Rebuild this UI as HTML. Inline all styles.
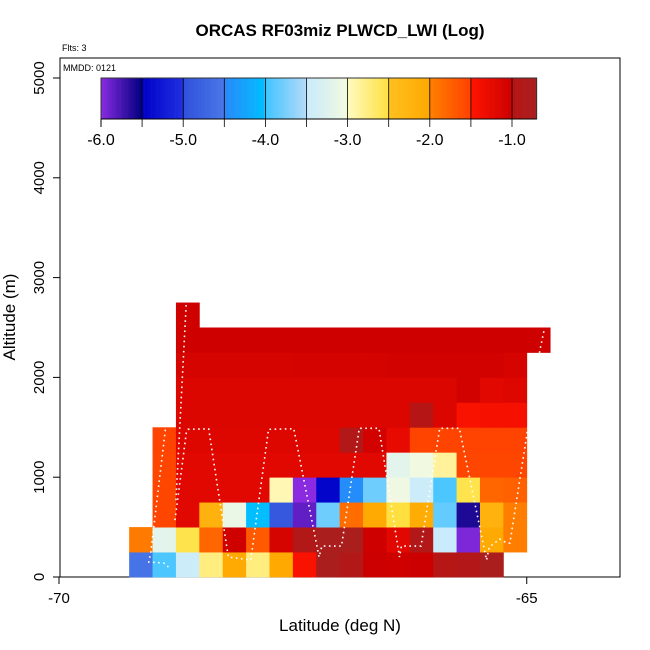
<!DOCTYPE html>
<html><head><meta charset="utf-8"><style>
body{margin:0;background:#fff;}
svg{display:block;font-family:"Liberation Sans",sans-serif;}
</style></head><body>
<svg id="chart" width="650" height="650" viewBox="0 0 650 650">
<text x="340" y="36" text-anchor="middle" font-size="17" font-weight="bold">ORCAS RF03miz PLWCD_LWI (Log)</text>
<text x="62" y="51" font-size="9">Flts: 3</text>
<rect x="60" y="58" width="560" height="519" fill="none" stroke="#000" stroke-width="1"/>
<g id="cells"></g>
<g id="track"></g>
<text x="63" y="71" font-size="9">MMDD: 0121</text>
<g id="cbar"></g>
<g id="axes"></g>
<text x="340" y="631" text-anchor="middle" font-size="17">Latitude (deg N)</text>
<text transform="translate(15,317) rotate(-90)" text-anchor="middle" font-size="17">Altitude (m)</text>
</svg>
<script>
const latStart = -69.25;
const latStep = 0.25;
const altStep = 250;
const xTicks = [-70, -65];
const yTicks = [0, 1000, 2000, 3000, 4000, 5000];
const cbTicks = [-6.0, -5.0, -4.0, -3.0, -2.0, -1.0];
const N = null;
const row0 = [-4.55,-3.95,-3.45,-2.75,-2.05,-2.75,-2.02,-1.45,-0.75,-0.9,-1.0,-1.02,-1.0,-0.95,-0.92,-0.75,N,N];
const row1 = [-1.95,-3.2,-2.55,-1.8,-1.02,-1.7,-1.1,-0.9,-0.75,-0.75,-1.02,-1.2,-0.9,-3.48,-5.95,-2.05,-1.98,N];
const row2 = [N,-1.55,-1.2,-2.2,-3.1,-4.02,-4.9,-5.85,-3.8,-1.85,-2.05,-2.5,-2.08,-3.85,-5.6,-2.2,-1.98,N];
const row3 = [N,-1.55,-1.2,-1.2,-1.2,-1.2,-2.95,-6.0,-5.45,-4.45,-3.8,-3.05,-3.45,-3.95,-2.55,-1.8,-1.75,N];
const row4 = [N,-1.55,-1.2,-1.2,-1.2,-1.2,-1.2,-1.2,-1.2,-1.2,-1.2,-3.2,-3.02,-2.85,-1.55,-1.55,-1.55,N];
const row5 = [N,-1.52,-1.18,-1.18,-1.18,-1.18,-1.18,-1.18,-1.18,-0.9,-1.05,-1.25,-1.53,-1.53,-1.52,-1.52,-1.52,N];
const row6 = [N,N,-1.15,-1.15,-1.15,-1.15,-1.15,-1.15,-1.15,-1.15,-1.15,-1.15,-0.97,-1.15,-1.45,-1.4,-1.4,N];
const row7 = [N,N,-1.15,-1.15,-1.15,-1.15,-1.15,-1.15,-1.15,-1.15,-1.15,-1.15,-1.15,-1.15,-1.05,-1.2,-1.18,N];
const row8 = [N,N,-1.1,-1.1,-1.1,-1.1,-1.1,-1.08,-1.08,-1.08,-1.08,-1.05,-1.05,-1.05,-1.05,-1.05,-1.1,N];
const row9 = [N,N,-1.02,-1.02,-1.02,-1.02,-1.02,-1.02,-1.02,-1.02,-1.02,-1.02,-1.02,-1.02,-1.02,-1.02,-1.02,-1.02];
const row10 = [N,N,-1.02,N,N,N,N,N,N,N,N,N,N,N,N,N,N,N];
const rows = [row0,row1,row2,row3,row4,row5,row6,row7,row8,row9,row10];
const trackA = [[-68.83,100],[-68.88,140],[-69.04,150],[-69.02,240],[-68.86,1500]];
const trackB = [[-68.75,770],[-68.64,2740]];
const trackC = [[-68.76,570],[-68.64,1440],[-68.62,1480],[-68.40,1485],[-68.19,200],[-67.95,170],[-67.76,1480],[-67.49,1485],[-67.22,200],[-67.19,310],[-66.98,310],[-66.79,1490],[-66.58,1490],[-66.36,200],[-66.34,310],[-66.13,310],[-65.93,1490],[-65.72,1490],[-65.43,170],[-65.40,300],[-65.29,380],[-65.21,340],[-65.18,340],[-65.02,1300],[-64.86,2270],[-64.81,2495]];

const NS='http://www.w3.org/2000/svg';
const xs = lat => 59 + (lat + 70) * 93.55;
const ys = alt => 577 - alt * 0.0998;
const cb = v => 101 + (v + 6) * 82.2;
const stops = [[-6,'#8a2be2'],[-5.5,'#000080'],[-5.499,'#0000c8'],[-5,'#2030e0'],[-4.999,'#3050dc'],[-4.5,'#4878e8'],[-4.499,'#2888f8'],[-4,'#00c0ff'],[-3.999,'#40c4ff'],[-3.5,'#b4daf8'],[-3.499,'#c8eafc'],[-3,'#f4fae0'],[-2.999,'#fffac0'],[-2.5,'#ffe040'],[-2.499,'#ffc020'],[-2,'#ffa800'],[-1.999,'#ff8000'],[-1.5,'#ff4000'],[-1.499,'#ff1400'],[-1,'#cc0000'],[-0.999,'#b81414'],[-0.7,'#a82020']];
function hex(h){return [1,3,5].map(i=>parseInt(h.substr(i,2),16));}
function cmap(v){
  if(v<=stops[0][0]) return stops[0][1];
  for(let i=1;i<stops.length;i++){
    if(v<=stops[i][0]){
      const a=hex(stops[i-1][1]),b=hex(stops[i][1]);
      const t=(v-stops[i-1][0])/(stops[i][0]-stops[i-1][0]);
      return 'rgb('+a.map((c,k)=>Math.round(c+(b[k]-c)*t)).join(',')+')';
    }
  }
  return stops[stops.length-1][1];
}
function mk(tag,attrs,parent){const e=document.createElementNS(NS,tag);for(const k in attrs)e.setAttribute(k,attrs[k]);parent.appendChild(e);return e;}

const cells=document.getElementById('cells');
rows.forEach((row,r)=>{
  row.forEach((v,c)=>{
    if(v===null) return;
    const x0=xs(latStart+c*latStep), x1=xs(latStart+(c+1)*latStep);
    const y0=ys((r+1)*altStep), y1=ys(r*altStep);
    const e=mk('rect',{x:x0,y:y0,width:x1-x0+0.4,height:y1-y0+0.4,fill:cmap(v)},cells);
    
    
  });
});

const track=document.getElementById('track');
[trackA,trackB,trackC].forEach(seg=>{
  const e=mk('polyline',{points:seg.map(p=>xs(p[0])+','+ys(p[1])).join(' '),fill:'none',stroke:'#fff','stroke-width':1.6,'stroke-dasharray':'1.6 3.5'},track);
  
  
});

const cbar=document.getElementById('cbar');
const nS=200;
for(let i=0;i<nS;i++){
  const v0=-6+i*(5.3/nS), v1=-6+(i+1)*(5.3/nS);
  mk('rect',{x:cb(v0),y:78,width:cb(v1)-cb(v0)+0.3,height:41,fill:cmap((v0+v1)/2)},cbar);
}
for(let v=-5.5;v<-0.7;v+=0.5){
  mk('line',{x1:cb(v),x2:cb(v),y1:78,y2:127,stroke:'#000','stroke-width':0.8},cbar);
}
mk('rect',{x:cb(-6),y:78,width:cb(-0.7)-cb(-6),height:41,fill:'none',stroke:'#333','stroke-width':1},cbar);
mk('line',{x1:cb(-6),x2:cb(-0.7),y1:119,y2:119,stroke:'#000','stroke-width':1},cbar);
mk('line',{x1:cb(-6),x2:cb(-6),y1:119,y2:127,stroke:'#000','stroke-width':1},cbar);
cbTicks.forEach(v=>{
  const t=mk('text',{x:cb(v),y:145,'text-anchor':'middle','font-size':16},cbar);
  t.textContent=v.toFixed(1);
  
  
});

const axes=document.getElementById('axes');
xTicks.forEach(v=>{
  mk('line',{x1:xs(v),x2:xs(v),y1:577,y2:584,stroke:'#000'},axes);
  const t=mk('text',{x:xs(v),y:603,'text-anchor':'middle','font-size':15},axes);
  t.textContent=v;
  
  
});
yTicks.forEach(v=>{
  mk('line',{x1:53,x2:60,y1:ys(v),y2:ys(v),stroke:'#000'},axes);
  const t=mk('text',{transform:'translate(44,'+ys(v)+') rotate(-90)','text-anchor':'middle','font-size':15},axes);
  t.textContent=v;
  
  
});
</script>
</body></html>
